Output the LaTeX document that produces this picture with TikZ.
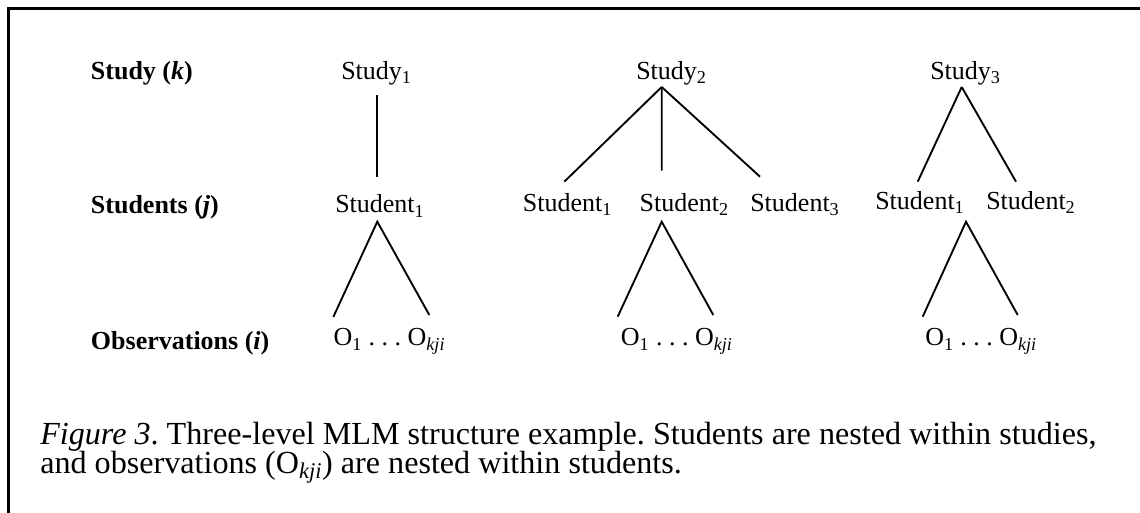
\documentclass[tikz,border=0pt]{standalone}
\usepackage{fontspec}
\setmainfont{Liberation Serif}
\frenchspacing
\begin{document}
\begin{tikzpicture}[x=0.75pt,y=-0.75pt,
  lbl/.style={anchor=base west,inner sep=0pt,font=\fontsize{19.5}{22}\selectfont\bfseries},
  txt/.style={anchor=base west,inner sep=0pt,font=\fontsize{19.5}{22}\selectfont},
  captxt/.style={anchor=base west,inner sep=0pt,align=left,
    font={\fontsize{24.1}{22.1}\selectfont\lineskiplimit=-30pt\frenchspacing}},
  edge/.style={line width=1.4pt},
  frame/.style={line width=2pt}]
\useasboundingbox (0,0) rectangle (1140,513);
\draw[frame] (8.7,513) -- (8.7,8.7) -- (1140,8.7);

% level labels
\node[lbl] (Lk) at (90.7,80) {Study (\textit{k})};
\node[lbl] (Lj) at (90.7,213.5) {Students (\textit{j})};
\node[lbl] (Li) at (90.7,350) {Observations (\textit{i})};

% studies
\node[txt] (s1) at (341,79.5) {Study\textsubscript{1}};
\node[txt] (s2) at (636,79.5) {Study\textsubscript{2}};
\node[txt] (s3) at (930,79.5) {Study\textsubscript{3}};

% students
\node[txt] (st11) at (335,213) {Student\textsubscript{1}};
\node[txt] (st21) at (522.7,211.7) {Student\textsubscript{1}};
\node[txt] (st22) at (639.3,211.7) {Student\textsubscript{2}};
\node[txt] (st23) at (750,211.7) {Student\textsubscript{3}};
\node[txt] (st31) at (875,209.3) {Student\textsubscript{1}};
\node[txt] (st32) at (986,209.3) {Student\textsubscript{2}};

% observations
\node[txt] (o1) at (333.3,346) {O\textsubscript{1} .\ .\ .\ O\textsubscript{\textit{kji}}};
\node[txt] (o2) at (620.7,346) {O\textsubscript{1} .\ .\ .\ O\textsubscript{\textit{kji}}};
\node[txt] (o3) at (925,346) {O\textsubscript{1} .\ .\ .\ O\textsubscript{\textit{kji}}};

% study -> students
\draw[edge] ([shift={(35.7,15.5)}]s1.base west) -- ([shift={(41.7,-36)}]st11.base west);
\draw[edge] ([shift={(25.7,7.5)}]s2.base west) -- ([shift={(41.6,-30)}]st21.base west);
\draw[edge] ([shift={(25.7,7.5)}]s2.base west) -- ([shift={(22.4,-41)}]st22.base west);
\draw[edge] ([shift={(25.7,7.5)}]s2.base west) -- ([shift={(10,-35)}]st23.base west);
\draw[edge] ([shift={(31.7,7.5)}]s3.base west) -- ([shift={(42.7,-27.6)}]st31.base west);
\draw[edge] ([shift={(31.7,7.5)}]s3.base west) -- ([shift={(30,-27.6)}]st32.base west);

% students -> observations
\draw[edge] ([shift={(0,-29)}]o1.base west) -- ([shift={(42.3,8.7)}]st11.base west) -- ([shift={(96,-31)}]o1.base west);
\draw[edge] ([shift={(-3,-29.3)}]o2.base west) -- ([shift={(22.4,10)}]st22.base west) -- ([shift={(92.6,-31)}]o2.base west);
\draw[edge] ([shift={(-2.3,-29.3)}]o3.base west) -- ([shift={(91,12.4)}]st31.base west) -- ([shift={(92.7,-31)}]o3.base west);

% caption (anchor base = baseline of the last line)
\node[captxt] (cap) at (40,473.5) {\textit{Figure 3}. Three-level MLM structure example. Students are nested within studies,\\
and observations (O\textsubscript{\textit{kji}}) are nested within students.};
\end{tikzpicture}
\end{document}
